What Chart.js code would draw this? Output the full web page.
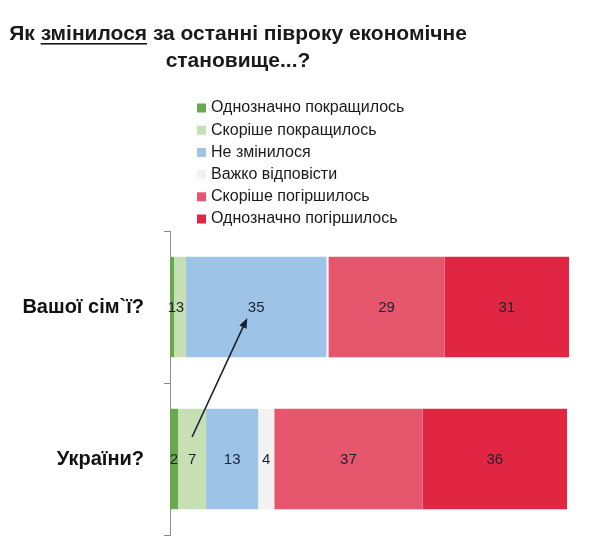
<!DOCTYPE html>
<html>
<head>
<meta charset="utf-8">
<script src="https://cdn.jsdelivr.net/npm/chart.js@4.4.1/dist/chart.umd.min.js"></script>
<style>
    html, body { margin: 0; padding: 0; background: #fff; }
    #wrap { width: 600px; height: 559px; position: relative; }
</style>
</head>
<body>
<div id="wrap"><canvas id="chart"></canvas></div>
<script>
// Дані з діаграми (у відсотках)
const categories = ["Вашої сім`ї?", "України?"];
const seriesNames = [
    "Однозначно покращилось",
    "Скоріше покращилось",
    "Не змінилося",
    "Важко відповісти",
    "Скоріше погіршилось",
    "Однозначно погіршилось",
];
const definitelyBetter = [1, 2];
const ratherBetter = [3, 7];
const unchanged = [35, 13];
const hardToSay = [0.5, 4];
const ratherWorse = [29, 37];
const definitelyWorse = [31, 36];
const seriesColors = ["#6aa84f", "#c6e0b4", "#9dc3e6", "#f2f2f2", "#e6566c", "#e02642"];

const titleLine1 = ["Як ", "змінилося", " за останні півроку економічне"];
const titleLine2 = "становище...?";

const allSeries = [definitelyBetter, ratherBetter, unchanged, hardToSay, ratherWorse, definitelyWorse];

const regular = '"Liberation Sans", Arial, sans-serif';

// заголовок, легенда, підписи і стрілка
const decor = {
    id: "decor",
    afterDatasetsDraw(chart) {
        const c = chart.ctx;
        c.save();

        // підписи значень
        c.font = "15px " + regular;
        c.fillStyle = "#1b2234";
        c.textAlign = "center";
        c.textBaseline = "middle";
        chart.data.datasets.forEach((ds, di) => {
            const meta = chart.getDatasetMeta(di);
            meta.data.forEach((el, i) => {
                const v = ds.data[i];
                if (v < 1) return;
                c.fillText(String(v), (el.x + el.base) / 2, el.y + 1);
            });
        });

        // стрілка від "України" до "Вашої сім'ї"
        const from = chart.getDatasetMeta(1).data[1];
        const to = chart.getDatasetMeta(2).data[0];
        const x1 = (from.x + from.base) / 2;
        const y1 = from.y - 22;
        const x2 = (to.x + to.base) / 2 - 9;
        const y2 = to.y + 11;
        const ang = Math.atan2(y2 - y1, x2 - x1);
        c.strokeStyle = "#1b2234";
        c.fillStyle = "#1b2234";
        c.lineWidth = 1.6;
        c.beginPath();
        c.moveTo(x1, y1);
        c.lineTo(x2 - 6 * Math.cos(ang), y2 - 6 * Math.sin(ang));
        c.stroke();
        c.beginPath();
        c.moveTo(x2, y2);
        c.lineTo(x2 - 10 * Math.cos(ang) + 4 * Math.sin(ang), y2 - 10 * Math.sin(ang) - 4 * Math.cos(ang));
        c.lineTo(x2 - 10 * Math.cos(ang) - 4 * Math.sin(ang), y2 - 10 * Math.sin(ang) + 4 * Math.cos(ang));
        c.closePath();
        c.fill();

        // заголовок
        c.fillStyle = "#1a1a1a";
        c.textBaseline = "alphabetic";
        c.textAlign = "left";
        c.font = "bold 21px " + regular;
        const cx = 238;
        const w1 = titleLine1.map((t) => c.measureText(t).width);
        let x = cx - (w1[0] + w1[1] + w1[2]) / 2;
        titleLine1.forEach((t, i) => {
            c.fillText(t, x, 40);
            if (i === 1) {
                c.fillRect(x, 43, w1[i], 1.6);
            }
            x += w1[i];
        });
        c.textAlign = "center";
        c.fillText(titleLine2, cx, 67);

        // легенда
        c.font = "16px " + regular;
        c.textAlign = "left";
        c.textBaseline = "middle";
        chart.data.datasets.forEach((ds, i) => {
            const y = 108 + i * 22.2;
            c.fillStyle = ds.backgroundColor;
            c.fillRect(197, y - 4.5, 9, 9);
            c.fillStyle = "#1a1a1a";
            c.fillText(ds.label, 211, y);
        });

        c.restore();
    },
};

const ctx = document.getElementById("chart");
new Chart(ctx, {
    type: "bar",
    data: {
        labels: categories,
        datasets: seriesNames.map((name, i) => ({
            label: name,
            data: allSeries[i],
            backgroundColor: seriesColors[i],
            borderWidth: 0,
            categoryPercentage: 1,
            barPercentage: 0.66,
        })),
    },
    options: {
        indexAxis: "y",
        responsive: true,
        maintainAspectRatio: false,
        animation: false,
        layout: { padding: { top: 231, right: 29, bottom: 24, left: 0 } },
        plugins: {
            legend: { display: false },
            title: { display: false },
            tooltip: { enabled: false },
        },
        scales: {
            x: { stacked: true, min: 0, max: 100, display: false },
            y: {
                stacked: true,
                afterFit: (scale) => {
                    scale.width = 170;
                    scale.paddingTop = 0;
                    scale.paddingBottom = 0;
                },
                border: { display: true, color: "#8c8c8c", width: 1 },
                grid: {
                    offset: true,
                    drawOnChartArea: false,
                    drawTicks: true,
                    tickLength: 6,
                    color: "#8c8c8c",
                },
                ticks: {
                    padding: 20,
                    color: "#111",
                    font: { family: regular, size: 20, weight: "bold" },
                },
            },
        },
    },
    plugins: [decor],
});
</script>
</body>
</html>
